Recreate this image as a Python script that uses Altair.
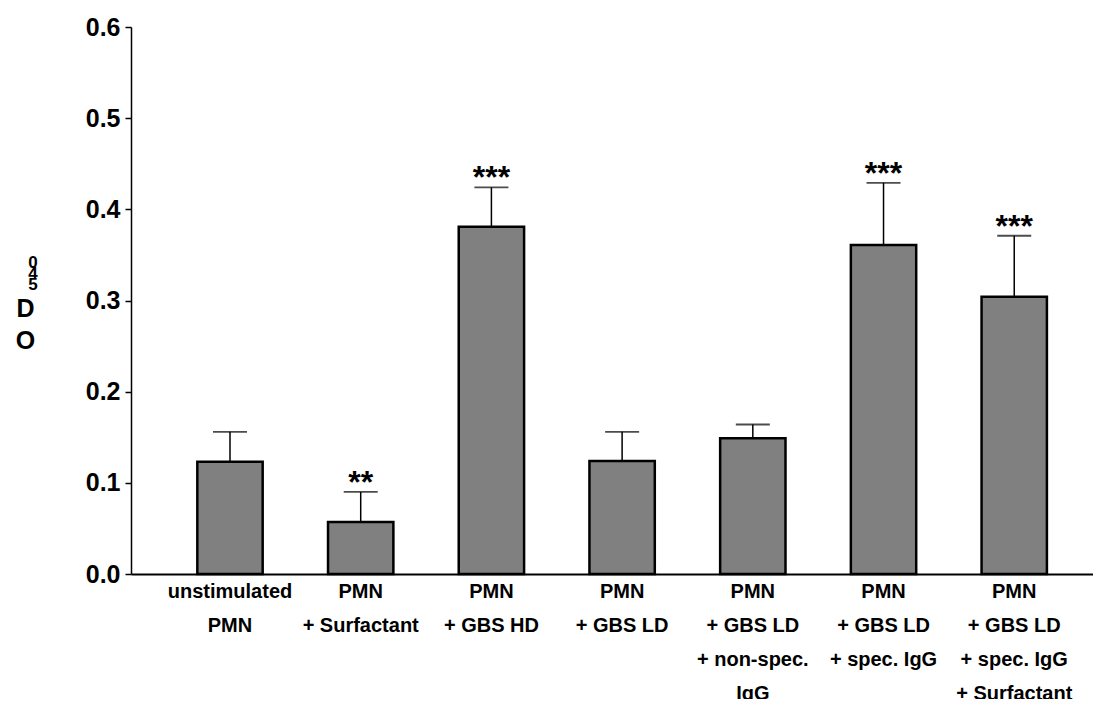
import altair as alt
import pandas as pd

categories = [
    "unstimulated|PMN",
    "PMN|+ Surfactant",
    "PMN|+ GBS HD",
    "PMN|+ GBS LD",
    "PMN|+ GBS LD|+ non-spec.|IgG",
    "PMN|+ GBS LD|+ spec. IgG",
    "PMN|+ GBS LD|+ spec. IgG|+ Surfactant",
]
means = [0.123, 0.057, 0.381, 0.124, 0.149, 0.361, 0.304]
sems = [0.033, 0.033, 0.043, 0.032, 0.015, 0.068, 0.067]
stars = ["", "**", "***", "", "", "***", "***"]
y_ticks = [0.0, 0.1, 0.2, 0.3, 0.4, 0.5, 0.6]

df = pd.DataFrame({"cat": categories, "mean": means, "sem": sems, "stars": stars})
df["top"] = df["mean"] + df["sem"]

FONT = "Liberation Sans"

x_enc = alt.X(
    "cat:N",
    sort=categories,
    scale=alt.Scale(paddingInner=0.5, paddingOuter=0.43, align=0.59),
    axis=alt.Axis(
        title=None,
        labelExpr="split(datum.label, '|')",
        labelAngle=0,
        labelFont=FONT,
        labelFontSize=20,
        labelFontWeight="bold",
        labelColor="black",
        labelLineHeight=34,
        labelPadding=7,
        labelBaseline="top",
        ticks=False,
        domainColor="black",
        domainWidth=2,
    ),
)

y_scale = alt.Scale(domain=[0, 0.6], nice=False)
y_axis = alt.Axis(
    values=y_ticks,
    format=".1f",
    grid=False,
    labelFont=FONT,
    labelFontSize=25,
    labelFontWeight="bold",
    labelColor="black",
    labelPadding=5,
    tickSize=6,
    tickColor="black",
    tickWidth=1.5,
    domainColor="black",
    domainWidth=1.5,
    title=["D", "O"],
    titleAngle=0,
    titleFont=FONT,
    titleFontSize=25,
    titleFontWeight="bold",
    titleColor="black",
    titleLineHeight=32,
    titleAlign="center",
    titleBaseline="middle",
    titleX=-106,
    titleY=281,
)

base = alt.Chart(df)

err = base.mark_rule(color="black", strokeWidth=1.5).encode(
    x=x_enc,
    y=alt.Y("mean:Q", scale=y_scale, axis=y_axis),
    y2="top:Q",
)
cap = base.mark_tick(color="black", size=34, thickness=1.8).encode(
    x=x_enc, y=alt.Y("top:Q", scale=y_scale)
)
bars = base.mark_bar(color="#808080", stroke="black", strokeWidth=2.5).encode(
    x=x_enc, y=alt.Y("mean:Q", scale=y_scale)
)
star_text = base.mark_text(
    font=FONT, fontSize=32, fontWeight="bold", color="black", baseline="alphabetic", dy=1
).encode(x=x_enc, y=alt.Y("top:Q", scale=y_scale), text="stars:N")

sub = alt.Chart(alt.Data(values=[{}])).mark_text(
    text="0\n4\n5",
    lineBreak="\n",
    lineHeight=11,
    font=FONT,
    fontSize=17,
    fontWeight="bold",
    color="black",
    baseline="middle",
    align="center",
).encode(x=alt.value(-98), y=alt.value(236))

chart = (
    alt.layer(err, cap, bars, star_text, sub)
    .properties(
        width=962,
        height=547,
        autosize=alt.AutoSizeParams(type="none"),
        padding={"left": 123, "top": 19, "right": 0, "bottom": 125},
        background="white",
    )
    .configure_view(stroke=None)
)

chart.save("out.html", embed_options={"renderer": "svg", "actions": False})
